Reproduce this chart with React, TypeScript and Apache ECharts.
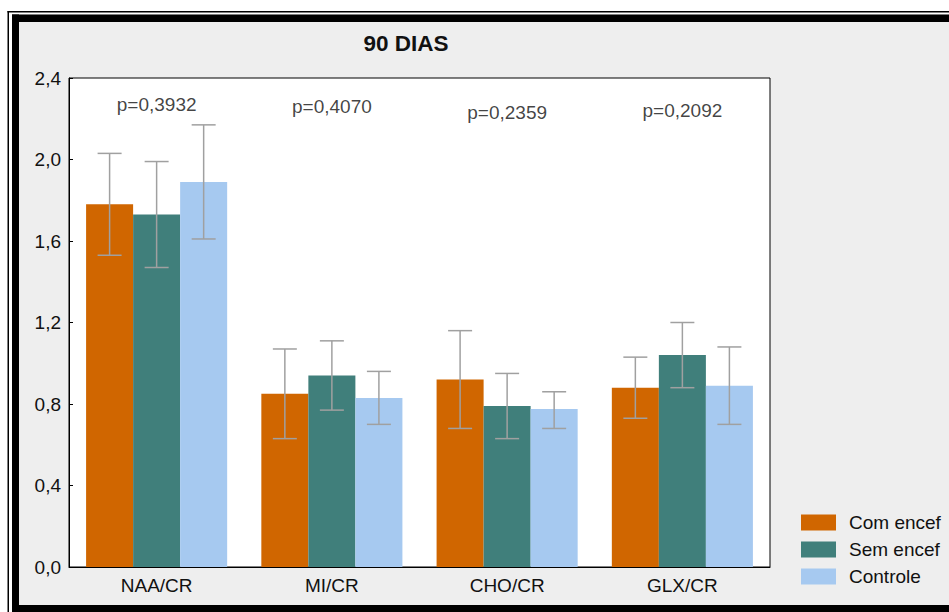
import React, { useEffect, useRef } from "react";
import * as echarts from "echarts";

const categories = ["NAA/CR", "MI/CR", "CHO/CR", "GLX/CR"];
const seriesNames = ["Com encef", "Sem encef", "Controle"];
const comEncef = [1.78, 0.85, 0.92, 0.88];
const comLow = [1.53, 0.63, 0.68, 0.73];
const comHigh = [2.03, 1.07, 1.16, 1.03];
const semEncef = [1.73, 0.94, 0.79, 1.04];
const semLow = [1.47, 0.77, 0.63, 0.88];
const semHigh = [1.99, 1.11, 0.95, 1.2];
const controle = [1.89, 0.83, 0.775, 0.89];
const ctrlLow = [1.61, 0.7, 0.68, 0.7];
const ctrlHigh = [2.17, 0.96, 0.86, 1.08];
const pValues = ["p=0,3932", "p=0,4070", "p=0,2359", "p=0,2092"];
const pLabelY = [2.27, 2.26, 2.23, 2.24];
const yTicks = [0, 0.4, 0.8, 1.2, 1.6, 2.0, 2.4];

const colors = ["#D06600", "#407F7B", "#A6C9F0"];
const FONT = "'Liberation Sans', Arial, sans-serif";
const GAP = 0.195;
const FS = 19;

export default function App() {
  const ref = useRef<HTMLDivElement>(null);
  useEffect(() => {
    if (!ref.current) return;
    const chart = echarts.init(ref.current, null, { renderer: "svg" });
    const values = [comEncef, semEncef, controle];
    const lows = [comLow, semLow, ctrlLow];
    const highs = [comHigh, semHigh, ctrlHigh];
    const errData: number[][] = [];
    for (let s = 0; s < 3; s++) {
      for (let c = 0; c < categories.length; c++) {
        errData.push([c, lows[s][c], highs[s][c], s]);
      }
    }
    const option: any = {
      animation: false,
      backgroundColor: "#eeeeee",
      textStyle: { fontFamily: FONT },
      grid: {
        left: 69,
        top: 78,
        width: 701,
        height: 489,
        show: true,
        backgroundColor: "#ffffff",
        borderColor: "#000",
        borderWidth: 1,
      },
      legend: {
        data: seriesNames,
        orient: "vertical",
        left: 801,
        top: 513,
        padding: 0,
        itemWidth: 35,
        itemHeight: 16,
        itemGap: 8,
        icon: "rect",
        textStyle: { fontSize: FS, lineHeight: 19, color: "#111", fontFamily: FONT, padding: [0, 0, 0, 8] },
      },
      xAxis: {
        type: "category",
        data: categories,
        boundaryGap: true,
        axisLine: { lineStyle: { color: "#000", width: 1 } },
        axisTick: { inside: true, length: 4, lineStyle: { color: "#000" } },
        axisLabel: { fontSize: FS, color: "#111", margin: 9, fontFamily: FONT },
      },
      yAxis: {
        type: "value",
        min: 0,
        max: 2.4,
        interval: 0.4,
        splitLine: { show: false },
        axisLine: { show: true, lineStyle: { color: "#000", width: 1 } },
        axisTick: { show: true, inside: true, length: 4, lineStyle: { color: "#000" } },
        axisLabel: {
          fontSize: FS,
          color: "#111",
          margin: 8,
          fontFamily: FONT,
          formatter: (v: number) =>
            yTicks.some((t) => Math.abs(t - v) < 1e-6) ? v.toFixed(1).replace(".", ",") : "",
        },
      },
      series: [
        ...seriesNames.map((name, i) => ({
          name,
          type: "bar",
          data: values[i],
          barGap: "0%",
          barCategoryGap: GAP * 100 + "%",
          itemStyle: { color: colors[i] },
        })),
        {
          type: "custom",
          name: "err",
          data: errData,
          encode: { x: 0, y: [1, 2] },
          z: 5,
          renderItem: (params: any, api: any) => {
            const ci = api.value(0);
            const lo = api.value(1);
            const hi = api.value(2);
            const si = api.value(3);
            const band = api.size([1, 0])[0];
            const bw = (band * (1 - GAP)) / 3;
            const pLo = api.coord([ci, lo]);
            const pHi = api.coord([ci, hi]);
            const x = pLo[0] + (si - 1) * bw;
            const half = 12;
            const style = { stroke: "#a0a0a0", lineWidth: 1.5 };
            return {
              type: "group",
              children: [
                { type: "line", shape: { x1: x, y1: pHi[1], x2: x, y2: pLo[1] }, style },
                { type: "line", shape: { x1: x - half, y1: pHi[1], x2: x + half, y2: pHi[1] }, style },
                { type: "line", shape: { x1: x - half, y1: pLo[1], x2: x + half, y2: pLo[1] }, style },
              ],
            };
          },
        },
        {
          type: "scatter",
          name: "p",
          symbolSize: 0,
          data: categories.map((c, i) => [c, pLabelY[i]]),
          label: {
            show: true,
            position: "inside",
            fontSize: FS,
            color: "#111",
            fontFamily: FONT,
            formatter: (p: any) => pValues[p.dataIndex],
          },
          z: 6,
        },
      ],
      graphic: [
        { type: "rect", shape: { x: 0, y: 0, width: 949, height: 14.5 }, style: { fill: "#fff" } },
        { type: "rect", shape: { x: 0, y: 0, width: 12, height: 612 }, style: { fill: "#fff" } },
        { type: "rect", shape: { x: 7.5, y: 11, width: 942, height: 1.5 }, style: { fill: "#000" } },
        { type: "rect", shape: { x: 7.5, y: 11, width: 1.5, height: 601 }, style: { fill: "#000" } },
        { type: "rect", shape: { x: 12, y: 14.5, width: 937, height: 7.5 }, style: { fill: "#000" } },
        { type: "rect", shape: { x: 12, y: 14.5, width: 7, height: 598 }, style: { fill: "#000" } },
        { type: "rect", shape: { x: 12, y: 605, width: 937, height: 7 }, style: { fill: "#000" } },
        {
          type: "text",
          x: 406,
          y: 43,
          style: {
            text: "90 DIAS",
            fontSize: 22.5,
            fontWeight: "bold",
            fontFamily: FONT,
            fill: "#111",
            textAlign: "center",
            textVerticalAlign: "middle",
          },
        },
      ],
    };
    chart.setOption(option);
    return () => chart.dispose();
  }, []);
  return (
    <div
      ref={ref}
      style={{ position: "absolute", left: 0, top: 0, width: 949, height: 612 }}
    />
  );
}
